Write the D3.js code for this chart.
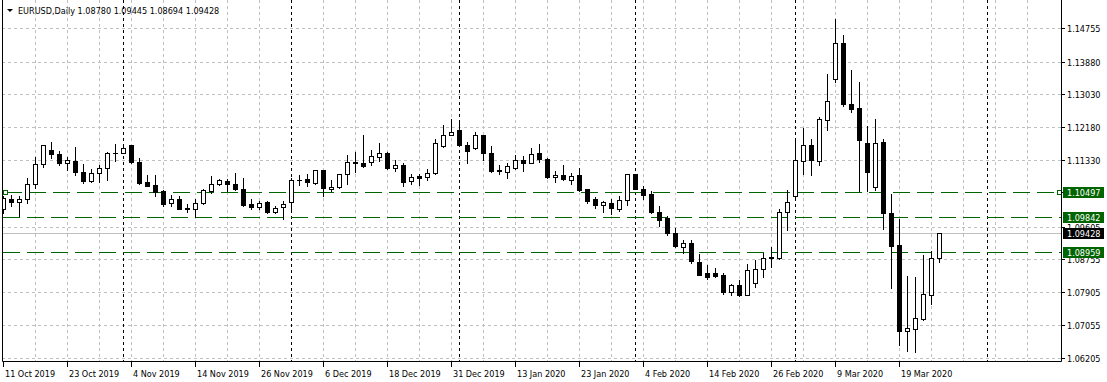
<!DOCTYPE html>
<html><head><meta charset="utf-8">
<script src="https://cdn.jsdelivr.net/npm/d3@7"></script>
<style>
body{margin:0;background:#fff;}
svg{display:block;}
text{font-family:"DejaVu Sans Condensed","DejaVu Sans",Verdana,sans-serif;font-stretch:condensed;}
</style>
</head><body><svg id="c" width="1107" height="382"></svg>
<script>
const symbolTitle = "EURUSD,Daily";
const opens  = [1.1005,1.1033,1.1025,1.1033,1.1071,1.1123,1.1160,1.1149,1.1126,1.1131,1.1102,1.1078,1.1099,1.1112,1.1152,1.1152,1.1171,1.1129,1.1076,1.1067,1.1052,1.1022,1.1033,1.1009,1.1005,1.1022,1.1052,1.1072,1.1078,1.1070,1.1059,1.1018,1.1012,1.1024,1.0999,1.1012,1.1025,1.1080,1.1083,1.1074,1.1106,1.1057,1.1064,1.1096,1.1128,1.1126,1.1128,1.1141,1.1150,1.1113,1.1121,1.1078,1.1091,1.1090,1.1100,1.1169,1.1197,1.1212,1.1173,1.1165,1.1197,1.1152,1.1106,1.1101,1.1113,1.1134,1.1126,1.1150,1.1136,1.1090,1.1095,1.1081,1.1093,1.1057,1.1031,1.1016,1.1022,1.1005,1.1029,1.1096,1.1058,1.1044,1.0999,1.0983,1.0943,1.0908,1.0917,1.0869,1.0841,1.0841,1.0834,1.0792,1.0808,1.0783,1.0815,1.0851,1.0880,1.0880,1.0999,1.1039,1.1130,1.1173,1.1130,1.1236,1.1343,1.1437,1.1279,1.1268,1.1178,1.1063,1.1180,1.0996,1.0912,1.0690,1.0696,1.0720,1.0783,1.08780];
const highs  = [1.1041,1.1043,1.1041,1.1087,1.1141,1.1173,1.1180,1.1156,1.1141,1.1166,1.1123,1.1110,1.1119,1.1153,1.1175,1.1173,1.1173,1.1139,1.1093,1.1093,1.1054,1.1043,1.1039,1.1020,1.1031,1.1058,1.1091,1.1084,1.1084,1.1100,1.1087,1.1031,1.1026,1.1026,1.1015,1.1028,1.1087,1.1093,1.1096,1.1108,1.1108,1.1080,1.1098,1.1145,1.1153,1.1199,1.1160,1.1176,1.1154,1.1134,1.1126,1.1098,1.1097,1.1110,1.1188,1.1223,1.1240,1.1234,1.1179,1.1206,1.1199,1.1169,1.1119,1.1126,1.1147,1.1143,1.1165,1.1175,1.1139,1.1104,1.1119,1.1100,1.1111,1.1058,1.1038,1.1026,1.1031,1.1039,1.1098,1.1097,1.1065,1.1052,1.1015,1.0987,1.0957,1.0927,1.0927,1.0890,1.0862,1.0852,1.0839,1.0812,1.0823,1.0864,1.0873,1.0893,1.0908,1.1007,1.1054,1.1186,1.1216,1.1188,1.1245,1.1355,1.1497,1.1458,1.1367,1.1335,1.1222,1.1238,1.1188,1.1046,1.0981,1.0832,1.0829,1.0888,1.0897,1.09445];
const lows   = [1.0997,1.1013,1.0989,1.1022,1.1061,1.1114,1.1139,1.1119,1.1107,1.1093,1.1074,1.1076,1.1077,1.1081,1.1130,1.1150,1.1126,1.1070,1.1065,1.1039,1.1015,1.1015,1.1005,1.0998,1.0986,1.1018,1.1048,1.1067,1.1052,1.1054,1.1013,1.1005,1.1005,1.0996,1.0997,1.0981,1.1007,1.1067,1.1065,1.1072,1.1039,1.1052,1.1061,1.1070,1.1102,1.1115,1.1121,1.1130,1.1110,1.1104,1.1065,1.1070,1.1067,1.1081,1.1098,1.1167,1.1197,1.1169,1.1126,1.1162,1.1133,1.1102,1.1096,1.1087,1.1110,1.1104,1.1124,1.1127,1.1087,1.1076,1.1081,1.1072,1.1052,1.1022,1.1009,1.0998,1.0992,1.1002,1.1016,1.1057,1.1031,1.0996,1.0963,1.0940,1.0908,1.0893,1.0867,1.0835,1.0825,1.0829,1.0785,1.0783,1.0780,1.0782,1.0805,1.0829,1.0856,1.0877,1.0951,1.1038,1.1096,1.1093,1.1120,1.1210,1.1335,1.1274,1.1257,1.1052,1.1052,1.1054,1.0955,1.0802,1.0653,1.0638,1.0635,1.0718,1.0759,1.08694];
const closes = [1.1035,1.1025,1.1033,1.1071,1.1123,1.1171,1.1149,1.1125,1.1132,1.1102,1.1078,1.1100,1.1112,1.1152,1.1151,1.1165,1.1127,1.1074,1.1065,1.1050,1.1018,1.1033,1.1007,1.1005,1.1022,1.1054,1.1072,1.1080,1.1072,1.1057,1.1016,1.1011,1.1022,1.0998,1.1009,1.1020,1.1080,1.1081,1.1076,1.1106,1.1061,1.1064,1.1096,1.1128,1.1126,1.1117,1.1143,1.1150,1.1111,1.1121,1.1076,1.1090,1.1086,1.1100,1.1176,1.1197,1.1206,1.1171,1.1156,1.1197,1.1152,1.1104,1.1105,1.1117,1.1133,1.1126,1.1149,1.1136,1.1090,1.1095,1.1083,1.1091,1.1055,1.1026,1.1016,1.1024,1.1008,1.1029,1.1096,1.1058,1.1042,1.0998,1.0977,1.0943,1.0910,1.0917,1.0871,1.0836,1.0829,1.0832,1.0791,1.0808,1.0783,1.0849,1.0851,1.0880,1.0881,1.0999,1.1025,1.1133,1.1171,1.1133,1.1238,1.1287,1.1437,1.1277,1.1266,1.1184,1.1101,1.1178,1.0996,1.0910,1.0690,1.0698,1.0724,1.0785,1.0880,1.09428];

const xLabels = ["11 Oct 2019","23 Oct 2019","4 Nov 2019","14 Nov 2019","26 Nov 2019","6 Dec 2019","18 Dec 2019","31 Dec 2019","13 Jan 2020","23 Jan 2020","4 Feb 2020","14 Feb 2020","26 Feb 2020","9 Mar 2020","19 Mar 2020"];
const barsPerLabel = 8;
const barsPerGrid = 4;
const separatorBars = [15,36,57,79,99,123];
const yTickValues = [1.14755,1.13880,1.13030,1.12180,1.11330,1.10490,1.09605,1.08755,1.07905,1.07055,1.06205];
const levelLines = [1.10497,1.09842,1.08959];
const bidPrice = 1.09428;

const svg = d3.select("#c");
const L = 2, R = 1061, T = 0, B = 361;
const totalSlots = 132;
const FS = 9;
const x = d3.scaleLinear().domain([0, totalSlots]).range([3, 3 + 8*totalSlots]);
const y = d3.scaleLinear().domain([1.06136, 1.15488]).range([B - 0.5, T - 0.5]);
const px = v => Math.round(v) + 0.5;
const fmt = d3.format(".5f");

// grid
const g = svg.append("g");
const gridX = d3.range(barsPerGrid, totalSlots, barsPerGrid);
g.selectAll("line.gx").data(gridX).join("line").attr("class","gx")
  .attr("x1", d => px(x(d))).attr("x2", d => px(x(d)))
  .attr("y1", T).attr("y2", B)
  .attr("stroke", "#c0c0c0").attr("stroke-dasharray", "3,3");
g.selectAll("line.gy").data(yTickValues).join("line").attr("class","gy")
  .attr("x1", L).attr("x2", R)
  .attr("y1", d => px(y(d))).attr("y2", d => px(y(d)))
  .attr("stroke", "#c0c0c0").attr("stroke-dasharray", "3,3");

// separators
g.selectAll("line.sep").data(separatorBars).join("line").attr("class","sep")
  .attr("x1", d => px(x(d))).attr("x2", d => px(x(d)))
  .attr("y1", T).attr("y2", B)
  .attr("stroke", "#000").attr("stroke-dasharray", "3,3");

// bid line
svg.append("line").attr("x1", L).attr("x2", R)
  .attr("y1", px(y(bidPrice))).attr("y2", px(y(bidPrice)))
  .attr("stroke", "#c0c0c0");

// level lines (opaque dashed: white gaps)
const lx1 = (d,i) => i===0 ? 5 : L+1;
const lx2 = (d,i) => i===0 ? 1059 : R;
svg.selectAll("line.lvlbg").data(levelLines).join("line").attr("class","lvlbg")
  .attr("x1", lx1).attr("x2", lx2)
  .attr("y1", d => px(y(d))).attr("y2", d => px(y(d)))
  .attr("stroke", "#fff");
svg.selectAll("line.lvl").data(levelLines).join("line").attr("class","lvl")
  .attr("x1", lx1).attr("x2", lx2)
  .attr("y1", d => px(y(d))).attr("y2", d => px(y(d)))
  .attr("stroke", "#006400").attr("stroke-dasharray", "17,7");
[5, 1059].forEach(cx => {
  svg.append("rect").attr("x", Math.round(cx)-2+0.5).attr("y", Math.round(y(levelLines[0]))-2+0.5)
    .attr("width", 4).attr("height", 4).attr("fill", "#fff").attr("stroke", "#006400");
});

// candles
const bars = opens.map((o,i) => ({i, o, h: highs[i], l: lows[i], c: closes[i]}));
const cg = svg.append("g");
bars.forEach(d => {
  const cx = Math.round(x(d.i));
  cg.append("line").attr("x1", cx+0.5).attr("x2", cx+0.5)
    .attr("y1", Math.round(y(d.h))).attr("y2", Math.round(y(d.l))+1)
    .attr("stroke", "#000");
  const yt = Math.round(y(Math.max(d.o,d.c))), yb = Math.round(y(Math.min(d.o,d.c)));
  const up = d.c >= d.o;
  if (yb - yt < 1) {
    cg.append("line").attr("x1", cx-2).attr("x2", cx+3).attr("y1", yt+0.5).attr("y2", yt+0.5).attr("stroke", "#000");
  } else {
    cg.append("rect").attr("x", cx-1.5).attr("y", yt+0.5).attr("width", 4).attr("height", yb-yt)
      .attr("fill", up ? "#fff" : "#000").attr("stroke", "#000");
  }
});

// white area outside the frame
svg.append("rect").attr("x", 0).attr("y", 0).attr("width", L).attr("height", 382).attr("fill", "#fff");
svg.append("rect").attr("x", R+1).attr("y", 0).attr("width", 1107-R-1).attr("height", 382).attr("fill", "#fff");
svg.append("rect").attr("x", 0).attr("y", B+1).attr("width", 1107).attr("height", 382-B-1).attr("fill", "#fff");

// frame
svg.append("path").attr("d", `M${L+0.5},${T}V${B+0.5}H${R+0.5}V${T}`).attr("fill","none").attr("stroke","#000");

// right axis
const ya = svg.append("g");
yTickValues.forEach(v => {
  const yy = px(y(v));
  ya.append("line").attr("x1", R+1).attr("x2", R+4).attr("y1", yy).attr("y2", yy).attr("stroke", "#000");
  ya.append("text").attr("x", 1067).attr("y", yy).attr("dy", "0.36em").attr("font-size", FS).attr("fill", "#000").text(fmt(v));
});

// price label boxes
const boxes = levelLines.map(v => ({v, bg: "#006400"})).concat([{v: bidPrice, bg: "#000"}]);
boxes.forEach(b => {
  const yy = Math.round(y(b.v));
  ya.append("rect").attr("x", 1063).attr("y", yy-5).attr("width", 41).attr("height", 11).attr("fill", b.bg);
  ya.append("text").attr("x", 1067).attr("y", yy+0.5).attr("dy", "0.36em").attr("font-size", FS).attr("fill", "#fff").text(fmt(b.v));
});

// bottom axis
const xa = svg.append("g");
xLabels.forEach((lab, k) => {
  const xx = px(x(k*barsPerLabel));
  xa.append("line").attr("x1", xx).attr("x2", xx).attr("y1", B+1).attr("y2", B+6).attr("stroke", "#000");
  xa.append("text").attr("x", xx+1.5).attr("y", 377).attr("font-size", FS).attr("fill", "#000").text(lab);
});

// title
const last = bars[bars.length-1];
svg.append("path").attr("d", "M7,9L13,9L10,12Z").attr("fill", "#000");
svg.append("text").attr("x", 18).attr("y", 14).attr("font-size", FS).attr("fill", "#000")
  .text(`${symbolTitle}  ${fmt(last.o)} ${fmt(last.h)} ${fmt(last.l)} ${fmt(last.c)}`);
</script>
</body></html>
